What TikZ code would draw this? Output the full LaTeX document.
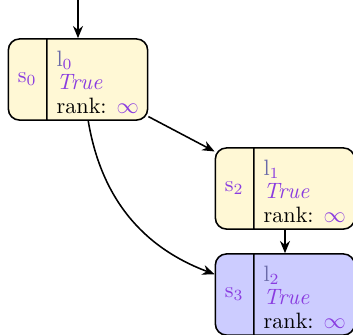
\documentclass[tikz,border=0pt]{standalone}
\usepackage{xcolor}
\usepackage{tikz}
\usetikzlibrary{shapes.multipart,arrows.meta}

\definecolor{stateviolet}{HTML}{8A3CE0}
\definecolor{locgray}{HTML}{6A6AA8}
\definecolor{pendfill}{HTML}{FFF8D5}
\definecolor{donefill}{HTML}{CCCCFF}

\newcommand{\stinfo}[1]{\raisebox{-2.5pt}[\height][\depth]{\begin{tabular}{@{}l@{}}{\color{locgray}$\mathrm{l}$}{\color{stateviolet}$_{#1}$}\\{\color{stateviolet}\textit{True}}\\rank: {\color{stateviolet}$\infty$}\end{tabular}}}

\begin{document}
\begin{tikzpicture}[
  x=0.45pt, y=-0.45pt,
  stbox/.style={draw, rectangle split, rectangle split horizontal, rectangle split parts=2,
    rounded corners=5pt, line width=0.7pt, minimum height=36.5pt, inner xsep=4pt, inner ysep=1pt},
  pending/.style={stbox, fill=pendfill},
  done/.style={stbox, fill=donefill},
  edge/.style={-{Stealth[length=5.5pt,width=4.5pt]}, line width=0.7pt},
]
  \useasboundingbox (0,0) rectangle (353,335);
  \renewcommand{\arraystretch}{0.88}

  % States
  \node[pending] (s0) at (78,79.5) {\makebox[9pt]{\color{stateviolet}$\mathrm{s}_0$}\nodepart{two}\stinfo{0}};
  \node[pending] (s2) at (285,188.5) {\makebox[9pt]{\color{stateviolet}$\mathrm{s}_2$}\nodepart{two}\stinfo{1}};
  \node[done] (s3) at (285,294.5) {\makebox[9pt]{\color{stateviolet}$\mathrm{s}_3$}\nodepart{two}\stinfo{2}};

  % Initial arrow
  \coordinate (init) at (78,0);
  \draw[edge] (init) -- (init |- s0.north);

  % Transitions
  \draw[edge] (s0) -- (s2);
  \draw[edge] (s0) to[bend right=30] (s3);
  \draw[edge] (s2) -- (s3);
\end{tikzpicture}
\end{document}
